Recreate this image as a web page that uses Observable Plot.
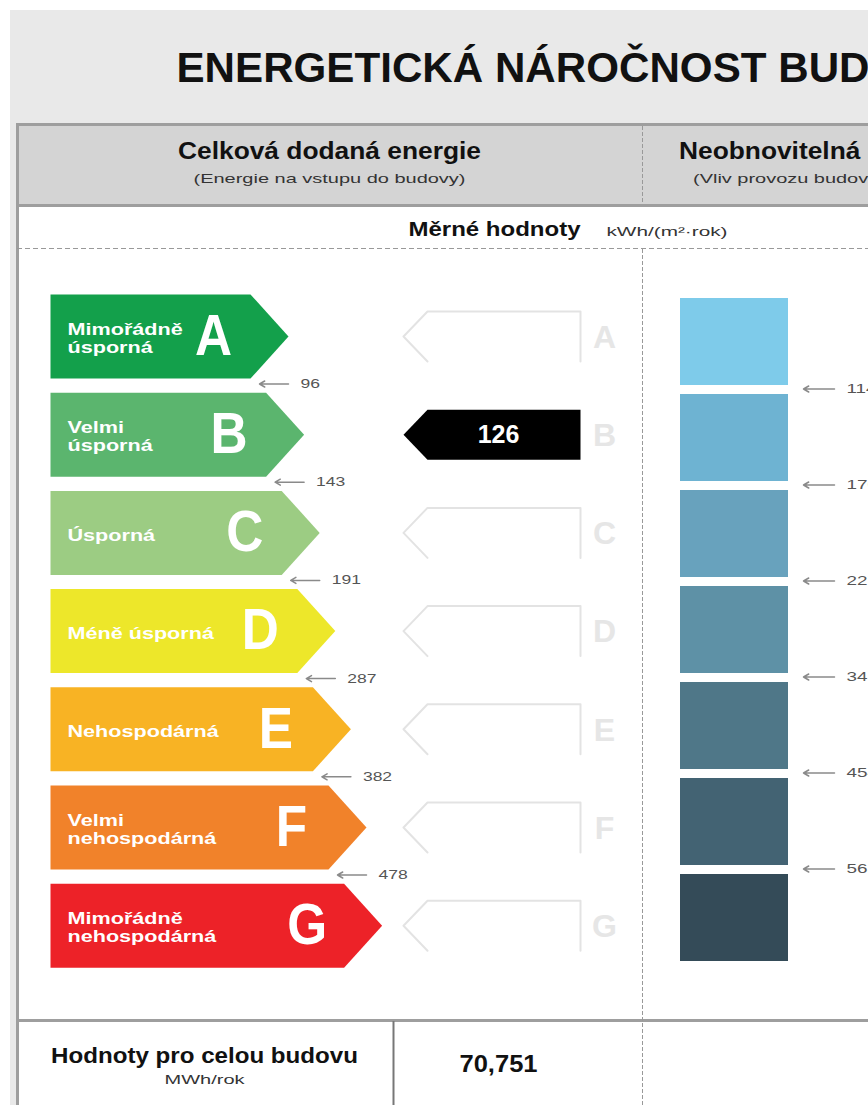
<!DOCTYPE html>
<html>
<head>
<meta charset="utf-8">
<script src="https://cdn.jsdelivr.net/npm/d3@7"></script>
<script src="https://cdn.jsdelivr.net/npm/@observablehq/plot@0.6"></script>
<style>
html,body{margin:0;padding:0;background:#fff;}
#chart svg{display:block;}
</style>
</head>
<body>
<div id="chart"></div>
<script>
// ---------- DATA ----------
const title = "ENERGETICKÁ NÁROČNOST BUDOVY";
const columnTitles = ["Celková dodaná energie", "Neobnovitelná primární energie"];
const columnSubtitles = ["(Energie na vstupu do budovy)", "(Vliv provozu budovy na životní prostředí)"];
const rowTitle = "Měrné hodnoty";
const rowUnit = "kWh/(m²·rok)";
const classes = ["A", "B", "C", "D", "E", "F", "G"];
const classNames = ["Mimořádně\núsporná", "Velmi\núsporná", "Úsporná", "Méně úsporná", "Nehospodárná", "Velmi\nnehospodárná", "Mimořádně\nnehospodárná"];
const classColors = ["#13a04b", "#5bb56e", "#9ccc83", "#ede72a", "#f8b324", "#f1822a", "#ed2228"];
const deliveredThresholds = [96, 143, 191, 287, 382, 478];
const primaryThresholds = [114, 170, 227, 341, 454, 568];
const primaryColors = ["#7ecbea", "#6eb3d2", "#68a2bd", "#5e91a6", "#4f7788", "#436373", "#344b58"];
const deliveredValue = 126;
const totalLabel = "Hodnoty pro celou budovu";
const totalUnit = "MWh/rok";
const deliveredTotal = "70,751";

// ---------- LAYOUT ----------
const W = 868, H = 1105;
const rowTop = i => 294 + 98.2 * i;
const rowH = 84;
const rowMid = i => rowTop(i) + rowH / 2;
const bodyEnd = i => 250 + 15.6 * i;
const blueTop = i => 298 + 96 * i;
const blueH = 87;

const F_HEAD = "Liberation Sans";
const F_LABEL = "Liberation Sans, Arimo";
const F_LETTER = "Liberation Sans, Arial";
const F_NUM = "Liberation Sans, Helvetica";
const F_NUM2 = "Liberation Sans, Helvetica, Arial";

const idx = deliveredThresholds.findIndex(t => deliveredValue <= t);
const valueClass = idx < 0 ? classes.length - 1 : idx;

// green arrow polygons
const greenPts = classes.flatMap((c, i) => {
  const T = rowTop(i), B = T + rowH, M = rowMid(i), E = bodyEnd(i), P = E + 38;
  return [[50, T], [E, T], [P, M], [E, B], [50, B]].map(([x, y]) => ({c, x, y}));
});
// outline arrows (middle column)
const outlinePts = classes.flatMap((c, i) => {
  if (i === valueClass) return [];
  const M = rowMid(i);
  return [[580, M + 25], [580, M - 25], [427, M - 25], [403, M], [427, M + 25]].map(([x, y]) => ({c, x, y}));
});
const valueM = rowMid(valueClass);
const valuePts = [[580, valueM - 25], [427, valueM - 25], [403, valueM], [427, valueM + 25], [580, valueM + 25]].map(([x, y]) => ({x, y}));

const headStart = [
  {x: 176, y: 68.5, t: title, size: 42},
  {x: 408, y: 229.5, t: rowTitle, size: 20}
];
const headMiddle = [
  {x: 329, y: 151.5, t: columnTitles[0], size: 23},
  {x: 876, y: 151.5, t: columnTitles[1], size: 23},
  {x: 204, y: 1055, t: totalLabel, size: 22},
  {x: 498, y: 1064, t: deliveredTotal, size: 24}
];
const subStart = [
  {x: 606, y: 231.8, t: rowUnit, size: 13}
];
const subMiddle = [
  {x: 329, y: 177.7, t: columnSubtitles[0], size: 13.5},
  {x: 876, y: 177.7, t: columnSubtitles[1], size: 13.5},
  {x: 204, y: 1079, t: totalUnit, size: 12.5}
];
const textWidths = {
  [title]: 782,
  [columnTitles[0]]: 303,
  [columnTitles[1]]: 395,
  [columnSubtitles[0]]: 272,
  [columnSubtitles[1]]: 367,
  [rowTitle]: 172,
  [rowUnit]: 121,
  [totalLabel]: 307,
  [totalUnit]: 80,
  [deliveredTotal]: 78
};

const gray = "#9e9e9e";
const marks = [
  // frame
  Plot.rect([0], {x1: 10, x2: W + 5, y1: 10, y2: H + 5, fill: "#e9e9e9"}),
  Plot.rect([0], {x1: 17, x2: W + 5, y1: 124, y2: H + 5, fill: "#ffffff"}),
  Plot.rect([0], {x1: 17, x2: W + 5, y1: 124, y2: 205, fill: "#d4d4d4"}),
  Plot.ruleY([124], {x1: 17, x2: W + 5, stroke: gray, strokeWidth: 3}),
  Plot.ruleX([17], {y1: 123, y2: H + 5, stroke: gray, strokeWidth: 3}),
  Plot.ruleY([205], {x1: 17, x2: W + 5, stroke: gray, strokeWidth: 3}),
  Plot.ruleY([1020], {x1: 17, x2: W + 5, stroke: gray, strokeWidth: 3}),
  Plot.ruleY([248], {x1: 17, x2: W + 5, stroke: "#999", strokeWidth: 1, strokeDasharray: "5,3"}),
  Plot.ruleX([642], {y1: 126, y2: 204, stroke: "#999", strokeWidth: 1, strokeDasharray: "4,2"}),
  Plot.ruleX([642], {y1: 249, y2: H + 5, stroke: "#999", strokeWidth: 1, strokeDasharray: "4,2"}),
  Plot.ruleX([393], {y1: 1021, y2: H + 5, stroke: "#777", strokeWidth: 2}),

  // green class arrows
  ...classes.map((c, i) => Plot.line(greenPts.filter(d => d.c === c), {x: "x", y: "y", fill: classColors[i], stroke: "none"})),
  Plot.text(classes.map((c, i) => ({t: classNames[i], x: 67, y: rowMid(i) + 2})), {
    x: "x", y: "y", text: "t", fill: "white", fontSize: 16, fontWeight: "bold", textAnchor: "start", lineAnchor: "middle", lineHeight: 1.12, fontFamily: F_LABEL
  }),
  Plot.text(classes.map((c, i) => ({t: c, x: bodyEnd(i) - 37, y: rowMid(i)})), {
    x: "x", y: "y", text: "t", fill: "white", fontSize: 57, fontWeight: "bold", textAnchor: "middle", lineAnchor: "middle", fontFamily: F_LETTER
  }),
  // delivered thresholds
  Plot.arrow(deliveredThresholds.map((v, i) => ({v, i})), {
    x1: d => bodyEnd(d.i) + 38, x2: d => bodyEnd(d.i) + 9,
    y1: d => rowTop(d.i) + rowH + 5.5, y2: d => rowTop(d.i) + rowH + 5.5,
    stroke: "#8a8a8a", strokeWidth: 1.5, headLength: 6
  }),
  Plot.text(deliveredThresholds.map((v, i) => ({v, i})), {
    x: d => bodyEnd(d.i) + 50, y: d => rowTop(d.i) + rowH + 5.5, text: d => String(d.v),
    fill: "#555", fontSize: 12.5, textAnchor: "start", lineAnchor: "middle", fontFamily: F_NUM
  }),

  // middle column outlines
  ...classes.filter((c, i) => i !== valueClass).map(c => Plot.line(outlinePts.filter(d => d.c === c), {x: "x", y: "y", stroke: "#e3e3e3", strokeWidth: 2})),
  Plot.text(classes.map((c, i) => ({t: c, y: rowMid(i) + 1})), {
    x: 604, y: "y", text: "t", fill: "#e6e6e6", fontSize: 32, fontWeight: "bold", textAnchor: "middle", lineAnchor: "middle", fontFamily: F_HEAD
  }),
  Plot.line(valuePts, {x: "x", y: "y", fill: "#000", stroke: "none"}),
  Plot.text([deliveredValue], {x: 498, y: valueM, text: d => String(d), fill: "white", fontSize: 25, fontWeight: "bold", lineAnchor: "middle", fontFamily: F_HEAD}),

  // primary energy bars
  Plot.rect(primaryColors.map((col, i) => ({col, i})), {
    x1: 680, x2: 788, y1: d => blueTop(d.i), y2: d => blueTop(d.i) + blueH, fill: "col"
  }),
  Plot.arrow(primaryThresholds.map((v, i) => ({v, i})), {
    x1: 834, x2: 803, y1: d => blueTop(d.i) + blueH + 3.5, y2: d => blueTop(d.i) + blueH + 3.5,
    stroke: "#8a8a8a", strokeWidth: 1.5, headLength: 6
  }),
  Plot.text(primaryThresholds.map((v, i) => ({v, i})), {
    x: 846, y: d => blueTop(d.i) + blueH + 3.5, text: d => String(d.v),
    fill: "#555", fontSize: 13, textAnchor: "start", lineAnchor: "middle", fontFamily: F_NUM2
  }),

  // headings
  Plot.text(headStart, {x: "x", y: "y", text: "t", fontSize: "size", fontWeight: "bold", fill: "#111", textAnchor: "start", lineAnchor: "middle", fontFamily: F_HEAD}),
  Plot.text(headMiddle, {x: "x", y: "y", text: "t", fontSize: "size", fontWeight: "bold", fill: "#111", textAnchor: "middle", lineAnchor: "middle", fontFamily: F_HEAD}),
  Plot.text(subStart, {x: "x", y: "y", text: "t", fontSize: "size", fill: "#333", textAnchor: "start", lineAnchor: "middle", fontFamily: F_HEAD}),
  Plot.text(subMiddle, {x: "x", y: "y", text: "t", fontSize: "size", fill: "#333", textAnchor: "middle", lineAnchor: "middle", fontFamily: F_HEAD})
];

const plot = Plot.plot({
  width: W,
  height: H,
  margin: 0,
  x: {type: "identity", axis: null},
  y: {type: "identity", axis: null},
  style: {background: "#fff", overflow: "hidden"},
  marks
});
document.getElementById("chart").append(plot);

// horizontal stretching of text to match the reference proportions
const factorByFamily = {[F_LABEL]: 1.35, [F_LETTER]: 0.9, [F_NUM]: 1.4, [F_NUM2]: 1.45};
plot.querySelectorAll("text").forEach(t => {
  const g = t.closest("g[font-family]");
  const fam = g ? g.getAttribute("font-family") : null;
  const tspans = t.querySelectorAll("tspan");
  const parts = tspans.length ? [...tspans] : [t];
  const target = textWidths[t.textContent];
  parts.forEach(p => {
    const w = p.getComputedTextLength();
    let tw = null;
    if (target && parts.length === 1) tw = target;
    else if (fam && factorByFamily[fam]) tw = w * factorByFamily[fam];
    if (tw) {
      p.setAttribute("textLength", tw);
      p.setAttribute("lengthAdjust", "spacingAndGlyphs");
    }
  });
});
</script>
</body>
</html>
